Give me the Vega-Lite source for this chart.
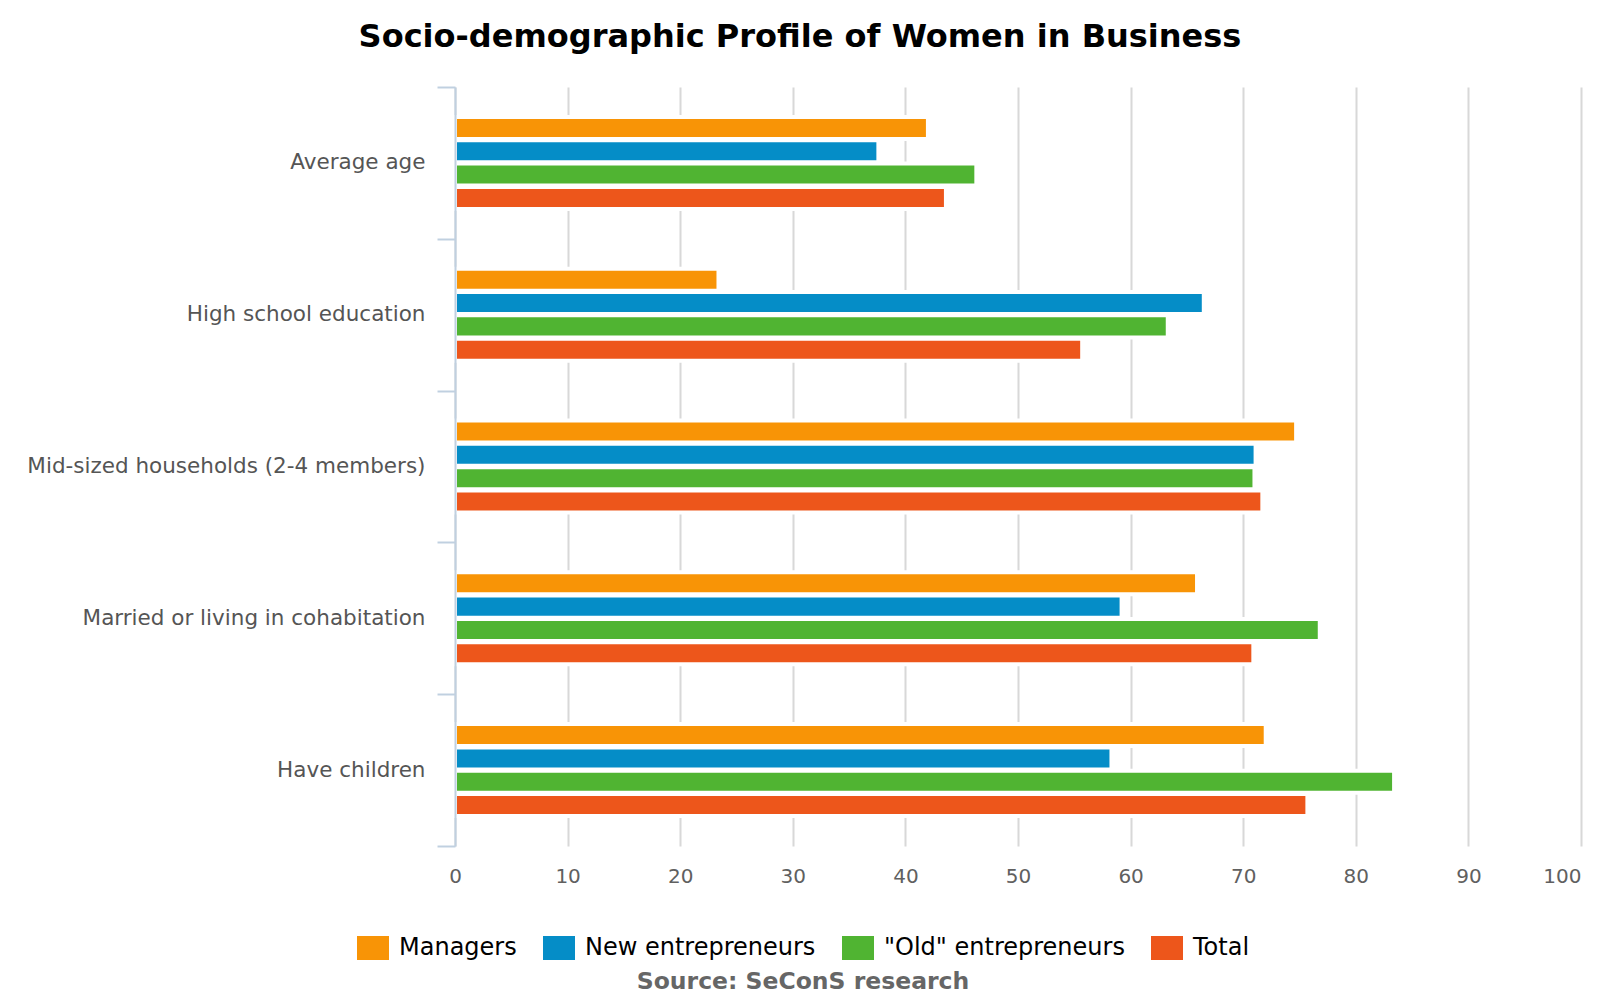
{
  "$schema": "https://vega.github.io/schema/vega-lite/v6.json",
  "width": 1126,
  "height": 759,
  "autosize": {"type": "none"},
  "padding": {"left": 455, "top": 87, "right": 19, "bottom": 154},
  "background": "white",
  "title": {
    "text": "Socio-demographic Profile of Women in Business",
    "font": "DejaVu Sans",
    "fontSize": 32,
    "fontWeight": "bold",
    "color": "#000000",
    "anchor": "middle",
    "frame": "group",
    "dx": -218,
    "offset": 22
  },
  "data": {
    "values": [
      {"category": "Average age", "group": "Managers", "value": 42.0},
      {"category": "Average age", "group": "New entrepreneurs", "value": 37.6},
      {"category": "Average age", "group": "\"Old\" entrepreneurs", "value": 46.3},
      {"category": "Average age", "group": "Total", "value": 43.6},
      {"category": "High school education", "group": "Managers", "value": 23.4},
      {"category": "High school education", "group": "New entrepreneurs", "value": 66.5},
      {"category": "High school education", "group": "\"Old\" entrepreneurs", "value": 63.3},
      {"category": "High school education", "group": "Total", "value": 55.7},
      {"category": "Mid-sized households (2-4 members)", "group": "Managers", "value": 74.7},
      {"category": "Mid-sized households (2-4 members)", "group": "New entrepreneurs", "value": 71.1},
      {"category": "Mid-sized households (2-4 members)", "group": "\"Old\" entrepreneurs", "value": 71.0},
      {"category": "Mid-sized households (2-4 members)", "group": "Total", "value": 71.7},
      {"category": "Married or living in cohabitation", "group": "Managers", "value": 65.9},
      {"category": "Married or living in cohabitation", "group": "New entrepreneurs", "value": 59.2},
      {"category": "Married or living in cohabitation", "group": "\"Old\" entrepreneurs", "value": 76.8},
      {"category": "Married or living in cohabitation", "group": "Total", "value": 70.9},
      {"category": "Have children", "group": "Managers", "value": 72.0},
      {"category": "Have children", "group": "New entrepreneurs", "value": 58.3},
      {"category": "Have children", "group": "\"Old\" entrepreneurs", "value": 83.4},
      {"category": "Have children", "group": "Total", "value": 75.7}
    ]
  },
  "mark": {"type": "bar", "stroke": "white", "strokeWidth": 4},
  "encoding": {
    "y": {
      "field": "category",
      "type": "nominal",
      "sort": ["Average age", "High school education", "Mid-sized households (2-4 members)", "Married or living in cohabitation", "Have children"],
      "scale": {"paddingInner": 0, "paddingOuter": 0},
      "axis": {
        "title": null,
        "grid": false,
        "domainColor": "#C0D0E0",
        "domainWidth": 2,
        "tickColor": "#C0D0E0",
        "tickWidth": 2,
        "tickSize": 18,
        "tickBand": "extent",
        "labelFont": "DejaVu Sans",
        "labelFontSize": 21.5,
        "labelColor": "#555555",
        "labelPadding": 12,
        "labelLimit": 500,
        "zindex": 1
      }
    },
    "yOffset": {
      "field": "group",
      "type": "nominal",
      "scale": {
        "domain": ["pad-top", "Managers", "New entrepreneurs", "\"Old\" entrepreneurs", "Total", "pad-bottom"],
        "paddingInner": 0.057,
        "paddingOuter": 0.28
      }
    },
    "x": {
      "field": "value",
      "type": "quantitative",
      "scale": {"domain": [0, 100], "nice": false},
      "axis": {
        "title": null,
        "values": [0, 10, 20, 30, 40, 50, 60, 70, 80, 90, 100],
        "domain": false,
        "ticks": false,
        "grid": true,
        "gridColor": "#D8D8D8",
        "gridWidth": 2,
        "labelFont": "DejaVu Sans",
        "labelFontSize": 20,
        "labelColor": "#606060",
        "labelPadding": 20,
        "labelFlush": false,
        "labelAlign": {"expr": "datum.value === 100 ? 'right' : 'center'"}
      }
    },
    "color": {
      "field": "group",
      "type": "nominal",
      "sort": ["Managers", "New entrepreneurs", "\"Old\" entrepreneurs", "Total"],
      "scale": {
        "domain": ["Managers", "New entrepreneurs", "\"Old\" entrepreneurs", "Total"],
        "range": ["#F89406", "#058DC7", "#50B432", "#ED561B"]
      },
      "legend": {
        "orient": "none",
        "legendX": -98,
        "legendY": 845,
        "direction": "horizontal",
        "title": "Source: SeConS research",
        "titleOrient": "bottom",
        "titleAnchor": "middle",
        "titleFont": "DejaVu Sans",
        "titleFontSize": 23.5,
        "titleFontWeight": "bold",
        "titleColor": "#666666",
        "titlePadding": 10,
        "titleLimit": 800,
        "labelFont": "DejaVu Sans",
        "labelFontSize": 24,
        "labelColor": "#000000",
        "labelOffset": 10,
        "labelLimit": 500,
        "columnPadding": 26,
        "symbolType": "M-1,-0.75H1V0.75H-1Z",
        "symbolSize": 1024,
        "symbolStrokeWidth": 0,
        "symbolOpacity": 1
      }
    }
  },
  "config": {"view": {"stroke": null}}
}
